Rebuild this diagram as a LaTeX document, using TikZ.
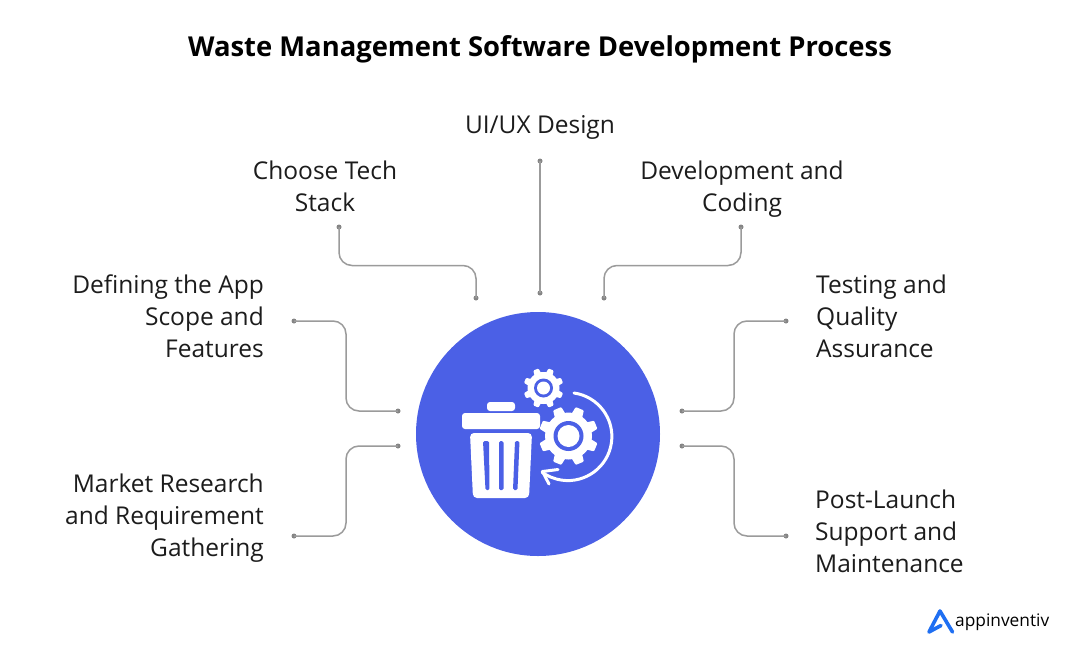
\documentclass[tikz,border=0pt]{standalone}
\usepackage{fontspec}
\setmainfont{Open Sans}
\definecolor{disc}{HTML}{4B60E6}
\definecolor{wire}{HTML}{9B9B9B}
\definecolor{pin}{HTML}{858585}
\definecolor{logo}{HTML}{1F6FF2}
\definecolor{ink}{HTML}{1C1C1C}
\tikzset{
 label/.style={font=\fontsize{24.5}{32}\selectfont,text=ink,inner sep=0pt},
 wirepath/.style={draw=wire,line width=1.5pt,rounded corners=13pt},
 pinpt/.style={circle,fill=pin,minimum size=5pt,inner sep=0pt},
}
\begin{document}
\begin{tikzpicture}[x=1pt,y=-1pt]
\useasboundingbox (0,0) rectangle (1080,654);
\fill[white] (0,0) rectangle (1080,654);
\node[font=\fontsize{27.4}{32}\selectfont\bfseries,text=black,inner sep=0pt] (title) at (540,49.5) {Waste Management Software Development Process};

\node[circle,fill=disc,minimum size=244pt,inner sep=0pt] (hub) at (538,434) {};

% connectors
\node[pinpt] (p1a) at (339,227) {}; \node[pinpt] (p1b) at (476,298) {};
\node[pinpt] (p2a) at (540,161) {}; \node[pinpt] (p2b) at (540,293) {};
\node[pinpt] (p3a) at (741,227) {}; \node[pinpt] (p3b) at (604,298) {};
\node[pinpt] (p4a) at (294,321) {}; \node[pinpt] (p4b) at (398,411) {};
\node[pinpt] (p5a) at (294,536) {}; \node[pinpt] (p5b) at (398,446) {};
\node[pinpt] (p6a) at (786,321) {}; \node[pinpt] (p6b) at (682,411) {};
\node[pinpt] (p7a) at (786,536) {}; \node[pinpt] (p7b) at (682,446) {};
\draw[wirepath] (p1a.center) -- (339,265.5) -- (476,265.5) -- (p1b.center);
\draw[wirepath] (p2a.center) -- (p2b.center);
\draw[wirepath] (p3a.center) -- (741,265.5) -- (604,265.5) -- (p3b.center);
\draw[wirepath] (p4a.center) -- (346,321) -- (346,411) -- (p4b.center);
\draw[wirepath] (p5a.center) -- (346,536) -- (346,446) -- (p5b.center);
\draw[wirepath] (p6a.center) -- (734,321) -- (734,411) -- (p6b.center);
\draw[wirepath] (p7a.center) -- (734,536) -- (734,446) -- (p7b.center);

% labels
\node[label,align=center] (uiux) at (540,127) {UI/UX Design};
\node[label,align=center] (tech) at (325,186.2) {Choose Tech\\Stack};
\node[label,align=center] (dev) at (742,189.3) {Development and\\Coding};
\node[label,align=right,anchor=east] (scope) at (264,316.2) {Defining the App\\Scope and\\Features};
\node[label,align=right,anchor=east] (market) at (264,518.3) {Market Research\\and Requirement\\Gathering};
\node[label,align=left,anchor=west] (test) at (816,316.2) {Testing and\\Quality\\Assurance};
\node[label,align=left,anchor=west] (post) at (815,531.2) {Post-Launch\\Support and\\Maintenance};

% bin
\fill[white,rounded corners=3pt] (462,413) rectangle (540,429);
\fill[white,rounded corners=3pt] (487,411) -- (487,402) -- (515,402) -- (515,411) -- cycle;
\fill[white,rounded corners=4pt] (470,433) -- (532,433) -- (529,498) -- (473,498) -- cycle;
\fill[disc,rounded corners=1.5pt] (483,441) -- (489,441) -- (489.5,490) -- (485.5,490) -- cycle;
\fill[disc,rounded corners=1.5pt] (499,441) -- (503.5,441) -- (503.5,490) -- (499,490) -- cycle;
\fill[disc,rounded corners=1.5pt] (515,441) -- (519.5,441) -- (517.5,490) -- (513,490) -- cycle;

% small gear
\fill[white] (543.5,388) circle (16);
\foreach \a in {0,45,...,315}
  \fill[white,rounded corners=1pt,shift={(543.5,388)},rotate=\a+22.5] (-3.6,-14) -- (-2.8,-20) -- (2.8,-20) -- (3.6,-14) -- cycle;
\fill[disc] (543.5,388) circle (9.5);
\fill[white] (543.5,388) circle (6.5);

% big gear
\fill[white] (568.5,436) circle (23.5);
\foreach \a in {0,45,...,315}
  \fill[white,rounded corners=1pt,shift={(568.5,436)},rotate=\a+22.5] (-5.8,-21) -- (-4.4,-29.5) -- (4.4,-29.5) -- (5.8,-21) -- cycle;
\fill[disc] (568.5,436) circle (15);
\fill[white] (568.5,436) circle (11);

% cycle arrow
\draw[white,line width=3pt,line cap=round] (574,393) arc[start angle=-82,end angle=126,radius=44];
\draw[white,line width=3pt,line cap=round,line join=round] (558,469.5) -- (542.5,471.5) -- (549,484);

% logo
\draw[logo,line width=3.6pt,line join=round,line cap=round] (952.5,632) -- (940,611) -- (929,632) -- (941,625.5);
\node[font=\fontsize{17.3}{20}\selectfont,text=black,inner sep=0pt,anchor=west] (brand) at (955,622) {appinventiv};
\end{tikzpicture}
\end{document}
